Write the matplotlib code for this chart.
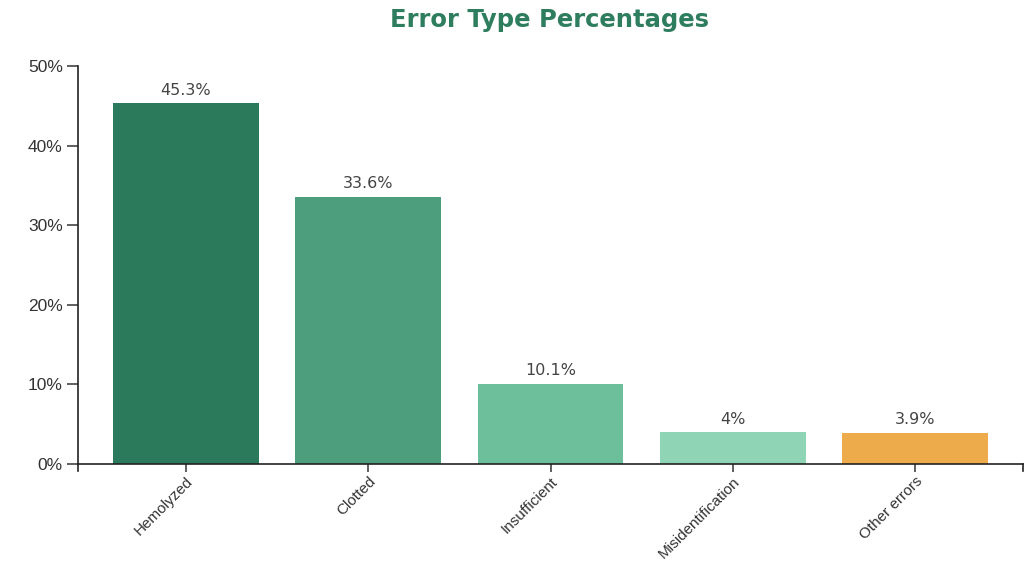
import matplotlib
matplotlib.use("Agg")
import matplotlib.pyplot as plt
import matplotlib.transforms as mtransforms
from matplotlib.ticker import FuncFormatter

categories = ["Hemolyzed", "Clotted", "Insufficient", "Misidentification", "Other errors"]
percentages = [45.3, 33.6, 10.1, 4, 3.9]
value_labels = ["45.3%", "33.6%", "10.1%", "4%", "3.9%"]
colors = ["#2c7a5c", "#4d9e7d", "#6dbf9c", "#8fd5b5", "#eeab4c"]
y_ticks = [0, 10, 20, 30, 40, 50]

W, H = 1025, 563
fig = plt.figure(figsize=(W / 100, H / 100), dpi=100)
left, right, bottom, top = 78, 1023, 464, 66
ax = fig.add_axes([left / W, 1 - bottom / H, (right - left) / W, (bottom - top) / H])

x = list(range(len(categories)))
ax.bar(x, percentages, width=0.80, color=colors, zorder=2)

ax.set_xlim(-0.593, len(categories) - 1 + 0.593)
ax.set_ylim(0, 50)

for s in ["top", "right"]:
    ax.spines[s].set_visible(False)
for s in ["left", "bottom"]:
    ax.spines[s].set_color("#222222")
    ax.spines[s].set_linewidth(1.2)

ax.set_yticks(y_ticks)
ax.yaxis.set_major_formatter(FuncFormatter(lambda v, p: f"{int(v)}%"))
ax.set_xticks(x)
ax.set_xticklabels(categories, rotation=45, ha="right", va="top", rotation_mode="anchor",
                   fontsize=11, family="Liberation Sans", color="#333333")
shift = mtransforms.ScaledTranslation(-5 / 100, 2 / 100, fig.dpi_scale_trans)
for lab in ax.get_xticklabels():
    lab.set_transform(lab.get_transform() + shift)
for lab in ax.get_yticklabels():
    lab.set_fontfamily("Liberation Sans")
    lab.set_fontsize(12.5)
    lab.set_color("#333333")
ax.tick_params(axis="y", direction="out", length=8, width=1.2, color="#444444", pad=3)
ax.tick_params(axis="x", direction="out", length=5.5, width=1.2, color="#444444", pad=2)

# outer end ticks of the axis domains
ax.plot([1, 1], [0, -0.018], transform=ax.transAxes, color="#222222", lw=1.2, clip_on=False)
ax.plot([0, 0], [0, -0.018], transform=ax.transAxes, color="#222222", lw=1.2, clip_on=False)

for xi, v, t in zip(x, percentages, value_labels):
    ax.annotate(t, (xi, v), xytext=(0, 4), textcoords="offset points", ha="center", va="bottom",
                fontsize=11.5, family="DejaVu Sans", color="#444444")

fig.text(550 / W, 1 - 20 / H, "Error Type Percentages", ha="center", va="center",
         fontsize=17.5, fontweight="bold", family="DejaVu Sans", color="#2e7d5e")

fig.savefig("out.png", dpi=100)
